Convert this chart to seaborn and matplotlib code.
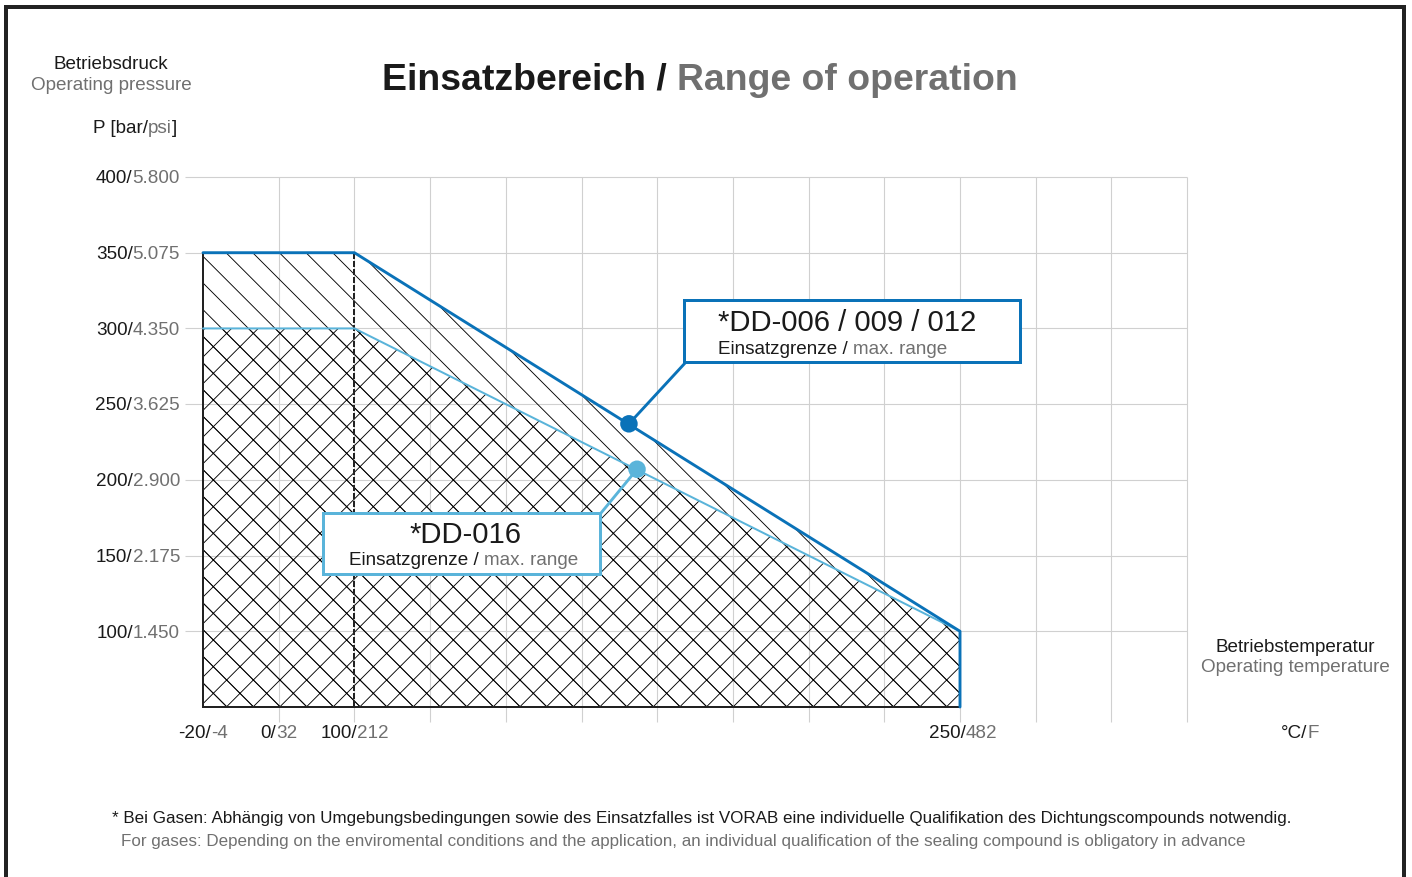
import numpy as np
import matplotlib
matplotlib.use('Agg')
import matplotlib.pyplot as plt
import matplotlib.patches as mpatches
import matplotlib.transforms as mtransforms
import seaborn as sns

# Daten
temp_ticks_c = [-20, 0, 100, 250]
temp_ticks_f = [-4, 32, 212, 482]
temp_slots = [0, 1, 2, 10]          # Rasterfeld je Temperatur-Tick
n_slots = 13
pressure_ticks_bar = [100, 150, 200, 250, 300, 350, 400]
pressure_ticks_psi = ['1.450', '2.175', '2.900', '3.625', '4.350', '5.075', '5.800']

dd006_temp = [-20, 100, 250, 250]
dd006_press = [350, 350, 100, 50]
dd016_temp = [-20, 100, 250, 250]
dd016_press = [300, 300, 100, 50]
base_press = 50

marker_temp = [168, 170]
marker_press = [237, 207]

DARK = '#1a1a1a'
GRAY = '#707070'
BLUE = '#0a72b8'
LIGHT = '#5ab4da'
GRID = '#d0d0d0'

W, H, DPI = 1412, 877, 160
FS = 8.5

sns.set_style('white')
plt.rcParams['font.family'] = ['Liberation Sans', 'DejaVu Sans']
plt.rcParams['hatch.linewidth'] = 0.4


def slot(t):
    return np.interp(t, temp_ticks_c, temp_slots)


fig = plt.figure(figsize=(W / DPI, H / DPI), dpi=DPI)
ident = mtransforms.IdentityTransform()

# Achse so legen, dass das Raster wie im Original sitzt
L, R, T, B = 150, 1200, 150, 760
x0, sw = 203, 75.7
y50, bp = 707, 1.5143
ax = fig.add_axes([L / W, 1 - B / H, (R - L) / W, (B - T) / H])
ax.set_xlim((L - x0) / sw, (R - x0) / sw)
ax.set_ylim(50 - (B - y50) / bp, 50 + (y50 - T) / bp)
ax.axis('off')

# Raster
grid_left = (185 - x0) / sw
ax.hlines(pressure_ticks_bar, grid_left, n_slots, color=GRID, lw=0.5, zorder=1)
ax.vlines(np.arange(1, n_slots + 1), 40, 400, color=GRID, lw=0.5, zorder=1)

# schraffierte Bereiche
xs006 = list(slot(dd006_temp)) + [slot(dd006_temp[0])]
ys006 = dd006_press + [base_press]
xs016 = list(slot(dd016_temp)) + [slot(dd016_temp[0])]
ys016 = dd016_press + [base_press]
ax.fill(xs006, ys006, facecolor='none', edgecolor='black', hatch='\\\\', lw=0, zorder=2)
ax.fill(xs016, ys016, facecolor='none', edgecolor='black', hatch='xx', lw=0, zorder=2)

# Ränder
ax.plot([slot(-20), slot(-20), slot(250)], [dd006_press[0], base_press, base_press],
        color='#222222', lw=0.9, zorder=3, solid_joinstyle='miter')
ax.plot([slot(100), slot(100)], [dd006_press[1], base_press], color='#222222',
        lw=0.9, ls=(0, (3, 1)), zorder=3)

sns.lineplot(x=slot(dd016_temp), y=dd016_press, estimator=None, sort=False,
             color=LIGHT, lw=0.9, ax=ax, zorder=4)
sns.lineplot(x=slot(dd006_temp), y=dd006_press, estimator=None, sort=False,
             color=BLUE, lw=1.3, ax=ax, zorder=4)
sns.scatterplot(x=slot(marker_temp), y=marker_press, hue=['006', '016'],
                palette=[BLUE, LIGHT], s=62, linewidth=0, legend=False, ax=ax, zorder=6)

renderer = fig.canvas.get_renderer()


def multi(x, y, parts, size, ha='left', weight='normal'):
    """Mehrfarbiger Text; x, y in Pixeln von oben links, y = Grundlinie."""
    texts = [fig.text(0, 0, s, fontsize=size, weight=weight, color=c,
                      va='baseline', transform=ident, zorder=5) for s, c in parts]
    widths = [t.get_window_extent(renderer).width for t in texts]
    left = x - {'left': 0, 'center': 0.5, 'right': 1}[ha] * sum(widths)
    for t, w in zip(texts, widths):
        t.set_position((left, H - y))
        left += w


def to_px(xd, yd):
    px, py = ax.transData.transform((xd, yd))
    return px, H - py


# Titel und Achsentitel
multi(700, 90, [('Einsatzbereich / ', DARK), ('Range of operation', GRAY)], 16.8,
      ha='center', weight='bold')
multi(111, 69, [('Betriebsdruck', DARK)], FS, ha='center')
multi(111, 90, [('Operating pressure', GRAY)], FS, ha='center')
multi(135, 133, [('P [bar/', DARK), ('psi', GRAY), (']', DARK)], FS, ha='center')

# y-Beschriftung
for bar, psi in zip(pressure_ticks_bar, pressure_ticks_psi):
    _, py = to_px(grid_left, bar)
    multi(180, py + 6.3, [(f'{bar}/', DARK), (psi, GRAY)], FS, ha='right')

# x-Beschriftung
for c, f in zip(temp_ticks_c, temp_ticks_f):
    px, _ = to_px(slot(c), 50)
    multi(px + (3 if c == 250 else 0), 738, [(f'{c}/', DARK), (f'{f}', GRAY)], FS, ha='center')
multi(1300, 738, [('°C/', DARK), ('F', GRAY)], FS, ha='center')
multi(1295, 652, [('Betriebstemperatur', DARK)], FS, ha='center')
multi(1295, 672, [('Operating temperature', GRAY)], FS, ha='center')

# Beschriftungskästen
boxes = [(684, 300, 1020, 362, BLUE), (323, 513, 600, 574, LIGHT)]
for bx0, by0, bx1, by1, col in boxes:
    fig.patches.append(mpatches.Rectangle((bx0, H - by1), bx1 - bx0, by1 - by0,
                                          transform=ident, facecolor='white',
                                          edgecolor=col, lw=1.35, zorder=3))

starts = [(686, 362), (601, 513)]
for (sx, sy), mt, mp, col in zip(starts, marker_temp, marker_press, [BLUE, LIGHT]):
    ax.annotate('', xy=(slot(mt), mp), xytext=(sx / W, 1 - sy / H),
                textcoords='figure fraction',
                arrowprops=dict(arrowstyle='-', color=col, lw=1.3, shrinkA=0, shrinkB=0),
                zorder=5)

multi(718, 331, [('*DD-006 / 009 / 012', DARK)], 13.2)
multi(718, 354, [('Einsatzgrenze / ', DARK), ('max. range', GRAY)], FS)
multi(465, 543, [('*DD-016', DARK)], 13.2, ha='center')
multi(464, 565, [('Einsatzgrenze / ', DARK), ('max. range', GRAY)], FS, ha='center')

# Fußnote
multi(112, 823, [('* Bei Gasen: Abhängig von Umgebungsbedingungen sowie des Einsatzfalles '
                  'ist VORAB eine individuelle Qualifikation des Dichtungscompounds notwendig.',
                  DARK)], 7.66)
multi(121, 846, [('For gases: Depending on the enviromental conditions and the application, '
                  'an individual qualification of the sealing compound is obligatory in advance',
                  GRAY)], 7.66)

# Rahmen
fig.patches.append(mpatches.Rectangle((6, -20), 1398, H - 7 + 20, transform=ident,
                                      fill=False, edgecolor='#222222', lw=1.8, zorder=10))

fig.savefig('out.png', dpi=DPI)
